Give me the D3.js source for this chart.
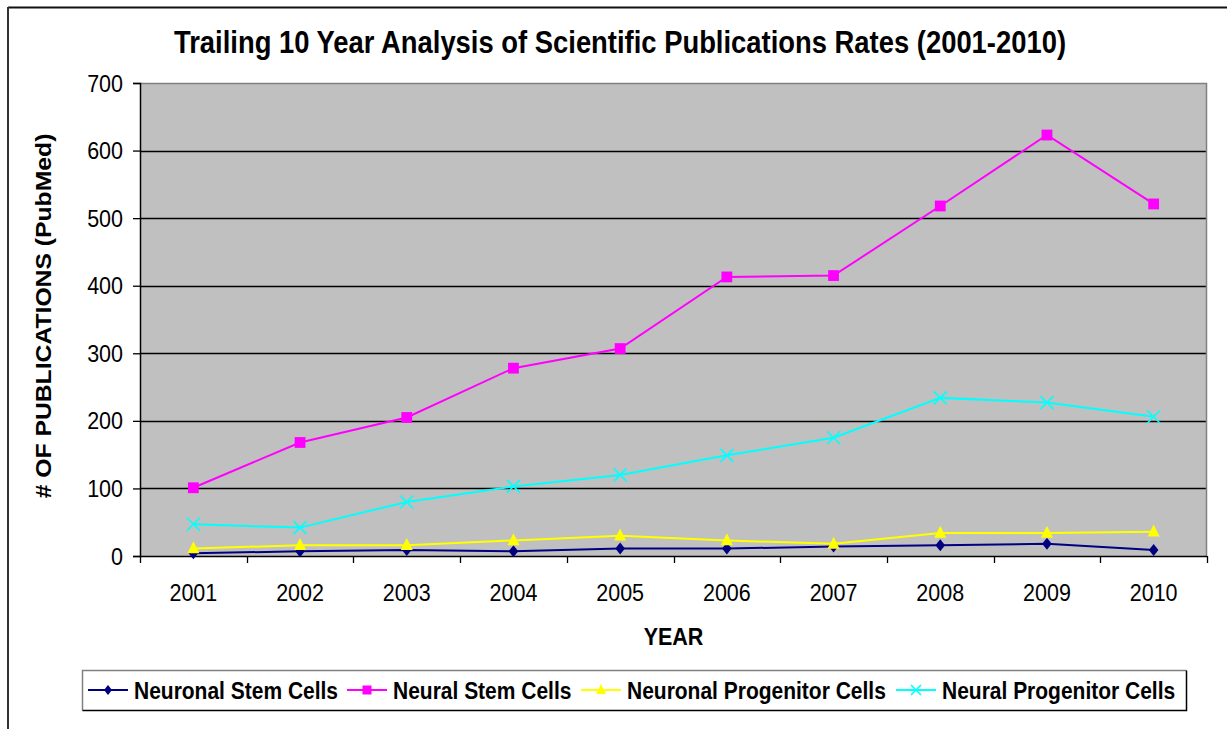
<!DOCTYPE html>
<html>
<head>
<meta charset="utf-8">
<script src="https://cdn.jsdelivr.net/npm/d3@7"></script>
<style>
  html, body { margin: 0; padding: 0; background: #fff; }
  svg { display: block; }
  text { font-family: "Liberation Sans", Arial, sans-serif; fill: #000; }
</style>
</head>
<body>
<svg id="chart" width="1227" height="729"></svg>
<script>
const years = ["2001","2002","2003","2004","2005","2006","2007","2008","2009","2010"];
const neuronalStemCells = [4, 7, 9, 7, 11, 11, 14, 16, 18, 9];
const neuralStemCells = [101, 168, 205, 278, 307, 413, 415, 518, 623, 521];
const neuronalProgenitorCells = [11, 16, 16, 23, 30, 23, 18, 34, 34, 36];
const neuralProgenitorCells = [47, 42, 80, 103, 120, 149, 175, 234, 227, 206];
const yTicks = [0, 100, 200, 300, 400, 500, 600, 700];
const seriesNames = ["Neuronal Stem Cells", "Neural Stem Cells", "Neuronal Progenitor Cells", "Neural Progenitor Cells"];
const titleText = "Trailing 10 Year Analysis of Scientific Publications Rates (2001-2010)";
const xTitle = "YEAR";
const yTitle = "# OF PUBLICATIONS (PubMed)";

const series = [
  { name: seriesNames[0], values: neuronalStemCells, color: "#000080", marker: "diamond" },
  { name: seriesNames[1], values: neuralStemCells, color: "#FF00FF", marker: "square" },
  { name: seriesNames[2], values: neuronalProgenitorCells, color: "#FFFF00", marker: "triangle" },
  { name: seriesNames[3], values: neuralProgenitorCells, color: "#00FFFF", marker: "cross" }
];

const SY = 1.15; // vertical stretch of text in the reference
const svg = d3.select("#chart");
const plot = { left: 140, right: 1207, top: 83, bottom: 556 };

const x = d3.scaleBand().domain(years).range([plot.left, plot.right]).padding(0);
const y = d3.scaleLinear().domain([0, 700]).range([plot.bottom, plot.top]);

function txt(parent, str, px, py, opts) {
  const g = parent.append("g").attr("transform", `translate(${px},${py}) scale(1,${SY})` + (opts.rotate ? ` rotate(${opts.rotate})` : ""));
  return g.append("text")
    .attr("x", 0).attr("y", 0)
    .attr("text-anchor", opts.anchor || "start")
    .attr("font-size", opts.size)
    .attr("font-weight", opts.bold ? "bold" : "normal")
    .text(str);
}

// outer border (top & left)
svg.append("line").attr("x1", 8).attr("x2", 1227).attr("y1", 7.5).attr("y2", 7.5).attr("stroke", "#111").attr("stroke-width", 2);
svg.append("line").attr("x1", 8).attr("x2", 8).attr("y1", 7).attr("y2", 729).attr("stroke", "#333").attr("stroke-width", 2);

// plot background
svg.append("rect").attr("x", plot.left).attr("y", plot.top)
  .attr("width", plot.right - plot.left).attr("height", plot.bottom - plot.top)
  .attr("fill", "#C0C0C0");

// gridlines
svg.append("g").selectAll("line").data(yTicks.filter(d => d > 0 && d < 700)).join("line")
  .attr("x1", plot.left).attr("x2", plot.right)
  .attr("y1", d => Math.round(y(d)) + 0.5).attr("y2", d => Math.round(y(d)) + 0.5)
  .attr("stroke", "#000").attr("stroke-width", 1.3);

// plot border top/right (gray)
svg.append("path")
  .attr("d", `M${plot.left},${plot.top + 0.5}H${plot.right - 0.5}V${plot.bottom}`)
  .attr("fill", "none").attr("stroke", "#808080").attr("stroke-width", 1.5);

// y axis
const yAxis = d3.axisLeft(y).tickValues(yTicks).tickSize(7).tickFormat("");
const yg = svg.append("g").attr("transform", `translate(${plot.left},0)`).call(yAxis);
yg.select(".domain").attr("stroke", "#000").attr("stroke-width", 1.5);
yg.selectAll(".tick line").attr("stroke", "#000").attr("stroke-width", 1.3);
yTicks.forEach(t => txt(svg, String(t), 123, y(t) + 8.6, { size: 21.5, anchor: "end" }));

// x axis with ticks between categories
const xAxisG = svg.append("g");
xAxisG.append("line").attr("x1", plot.left).attr("x2", plot.right)
  .attr("y1", plot.bottom + 0.5).attr("y2", plot.bottom + 0.5).attr("stroke", "#000").attr("stroke-width", 1.5);
const boundaries = years.map(d => x(d)).concat([plot.right]);
xAxisG.selectAll("line.tk").data(boundaries).join("line").attr("class", "tk")
  .attr("x1", d => Math.round(d) + 0.5).attr("x2", d => Math.round(d) + 0.5)
  .attr("y1", plot.bottom).attr("y2", plot.bottom + 7)
  .attr("stroke", "#000").attr("stroke-width", 1.3);
years.forEach(yr => txt(svg, yr, x(yr) + x.bandwidth() / 2, 601, { size: 21.5, anchor: "middle" }));

// axis titles
txt(svg, xTitle, (plot.left + plot.right) / 2, 645, { size: 21.5, anchor: "middle", bold: true });
txt(svg, yTitle, 51, 0, { size: 21.5, anchor: "middle", bold: true, rotate: -90 }).attr("x", -316 / SY);

// markers
function drawMarker(g, type, cx, cy, color, s) {
  if (type === "diamond") {
    g.append("path").attr("d", `M${cx},${cy - s}L${cx + s * 0.8},${cy}L${cx},${cy + s}L${cx - s * 0.8},${cy}Z`).attr("fill", color);
  } else if (type === "square") {
    g.append("rect").attr("x", cx - s * 0.9).attr("y", cy - s * 0.9).attr("width", s * 1.8).attr("height", s * 1.8).attr("fill", color);
  } else if (type === "triangle") {
    g.append("path").attr("d", `M${cx},${cy - s * 1.2}L${cx + s},${cy + s * 0.8}L${cx - s},${cy + s * 0.8}Z`).attr("fill", color);
  } else if (type === "cross") {
    g.append("path").attr("d", `M${cx - s},${cy - s}L${cx + s},${cy + s}M${cx - s},${cy + s}L${cx + s},${cy - s}`)
      .attr("stroke", color).attr("stroke-width", 1.6).attr("fill", "none");
  }
}

const line = d3.line().x((d, i) => x(years[i]) + x.bandwidth() / 2).y(d => y(d));
const seriesG = svg.append("g");
series.forEach(s => {
  seriesG.append("path").datum(s.values).attr("d", line)
    .attr("fill", "none").attr("stroke", s.color).attr("stroke-width", 2);
});
series.forEach(s => {
  const mg = seriesG.append("g");
  s.values.forEach((v, i) => drawMarker(mg, s.marker, x(years[i]) + x.bandwidth() / 2, y(v), s.color, s.marker === "cross" ? 6.5 : 6));
});

// title
txt(svg, titleText, 620, 53, { size: 27.4, anchor: "middle", bold: true });

// legend
const leg = svg.append("g");
leg.append("path").attr("d", "M82.5,710.5V670.5H1186.5").attr("fill", "none").attr("stroke", "#808080").attr("stroke-width", 1.5);
leg.append("path").attr("d", "M82.5,710.5H1186.5V670.5").attr("fill", "none").attr("stroke", "#000").attr("stroke-width", 1.5);
const legendStarts = [88, 347, 581, 896];
const ly = 690;
series.forEach((s, i) => {
  const lx = legendStarts[i];
  leg.append("line").attr("x1", lx).attr("x2", lx + 40).attr("y1", ly).attr("y2", ly).attr("stroke", s.color).attr("stroke-width", 2);
  drawMarker(leg, s.marker, lx + 20, ly, s.color, 5);
  txt(leg, s.name, lx + 46, ly + 8.5, { size: 21, bold: true });
});
</script>
</body>
</html>
